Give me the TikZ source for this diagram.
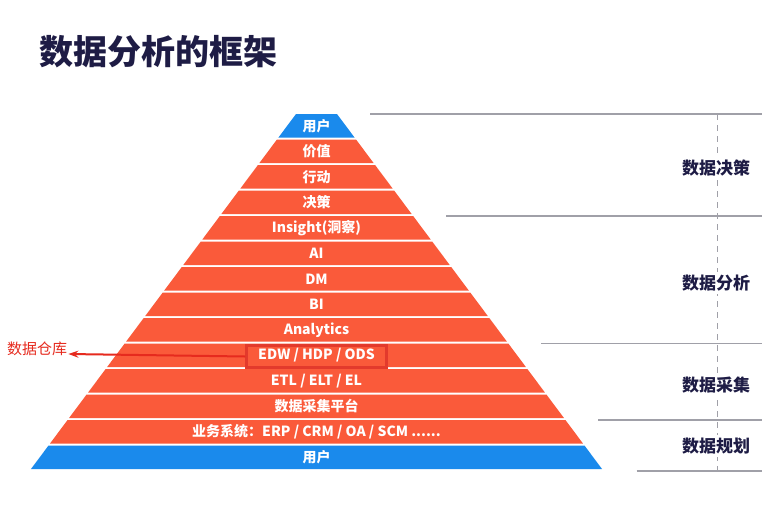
\documentclass[tikz,border=0pt]{standalone}
\usepackage{fontspec}
\usepackage{tikz}
\usetikzlibrary{arrows,arrows.meta}
\usepackage{xcolor}
\newfontfamily\cjk{Noto Sans CJK SC}
\definecolor{pyred}{HTML}{FA5A3A}
\definecolor{pyblue}{HTML}{1A8AEC}
\definecolor{navy}{HTML}{1E1C45}
\definecolor{rulegray}{HTML}{A0A0A8}
\definecolor{markred}{HTML}{E62A1E}
\definecolor{boxred}{HTML}{E33A2C}

\begin{document}
\begin{tikzpicture}[x=1pt,y=-1pt,>=stealth,thick]
  \tikzstyle{layer}=[text=white,font=\cjk\bfseries\fontsize{14}{14}\selectfont]
  \tikzstyle{stage}=[fill=white,text=navy,inner sep=3pt,font=\cjk\bfseries\fontsize{17}{17}\selectfont]
  \tikzstyle{rule}=[rulegray,line width=1.2pt]
  \useasboundingbox[fill=white](0,0) rectangle (779,504);
  \node(title) at (158,52)[text=navy,font=\cjk\bfseries\fontsize{34}{34}\selectfont]{数据分析的框架};
  \foreach \i/\txt/\col in {0/用户/pyblue,1/价值/pyred,2/行动/pyred,3/决策/pyred,
      4/Insight(洞察)/pyred,5/AI/pyred,6/DM/pyred,7/BI/pyred,8/Analytics/pyred,
      9/{EDW / HDP / ODS}/pyred,10/{ETL / ELT / EL}/pyred,11/数据采集平台/pyred,
      12/{业务系统：ERP / CRM / OA / SCM ......}/pyred,13/用户/pyblue}{
    \pgfmathsetmacro{\yt}{114+25.5*\i}
    \pgfmathsetmacro{\yb}{\yt+23.5}
    \pgfmathsetmacro{\wt}{20.5+(\yt-114)*0.7465}
    \pgfmathsetmacro{\wb}{20.5+(\yb-114)*0.7465}
    \fill[\col] (316.5-\wt,\yt) -- (316.5+\wt,\yt) -- (316.5+\wb,\yb) -- (316.5-\wb,\yb) -- cycle;
    \node(L\i) at (316.5,\yt+12)[layer]{\txt};
  }
  \foreach \y in {114,216,343.5,420,471}{
    \pgfmathsetmacro{\xs}{316.5+20.5+(\y-114)*0.7465+33}
    \draw[rule] (\xs,\y) -- (762,\y);
  }
  \draw[rulegray,thin,dash pattern=on 6pt off 5pt] (717,114) -- (717,471);
  \node(decide) at (716,168)[stage]{数据决策};
  \node(analyse) at (716,283)[stage]{数据分析};
  \node(collect) at (716,385)[stage]{数据采集};
  \node(plan) at (716,446)[stage]{数据规划};
  \node(edwbox) at (316.5,356.5)[draw=boxred,line width=2.5pt,minimum width=140pt,minimum height=22pt]{};
  \node(dwlabel) at (37,349)[text=markred,inner sep=1pt,font=\cjk\fontsize{15}{15}\selectfont]{数据仓库};
  \draw[-{Stealth[length=10pt,width=7pt]},markred,line width=2pt](edwbox.west)--([yshift=-5pt]dwlabel.east);
\end{tikzpicture}
\end{document}
